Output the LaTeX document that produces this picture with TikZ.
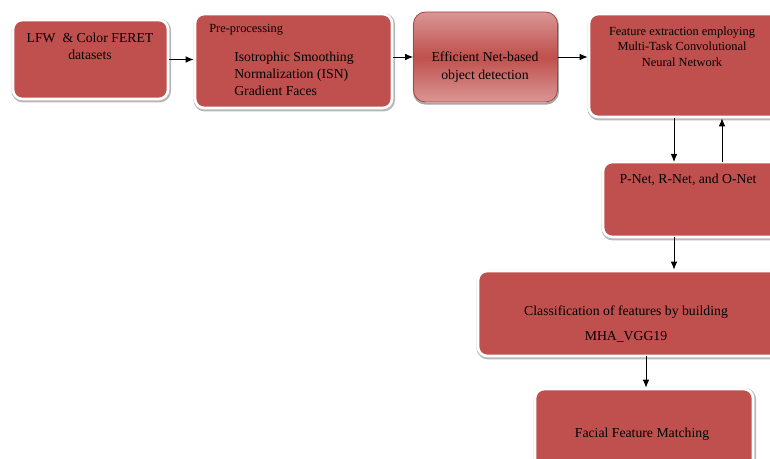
\documentclass[tikz,border=0pt]{standalone}
\usepackage{fontspec}
\setmainfont{Liberation Serif}
\usetikzlibrary{arrows.meta}
\definecolor{boxred}{HTML}{C0504D}
\definecolor{boxlight}{HTML}{D99694}
\definecolor{boxedge}{HTML}{A84542}
\tikzset{
  box/.style={rectangle, rounded corners=7pt, fill=boxred, draw=white, line width=2pt, inner sep=0pt,
    preaction={draw=black!28, line width=3.4pt, transform canvas={shift={(0.6pt,-0.9pt)}}}},
  glossbox/.style={rectangle, rounded corners=9pt, draw=boxedge, line width=0.6pt, inner sep=0pt,
    top color=boxlight, bottom color=boxlight, middle color=boxred,
    preaction={draw=black!35, line width=1.6pt, transform canvas={shift={(0.3pt,-1.2pt)}}}},
  txt/.style={inner sep=0pt, font=\fontsize{10.3pt}{12.75pt}\selectfont, align=center},
  smalltxt/.style={inner sep=0pt, font=\fontsize{9.3pt}{11.5pt}\selectfont, align=center},
  arr/.style={-{Latex[length=6pt,width=5pt]}, line width=0.7pt, black}
}
\begin{document}
\begin{tikzpicture}[x=0.75pt,y=-0.75pt]
\useasboundingbox (0,0) rectangle (770,459);
\clip (0,0) rectangle (770,459);
% boxes
\node[box, minimum width=116.25pt, minimum height=59.25pt] (b1) at (90.5,59.5) {};
\node[box, minimum width=147.75pt, minimum height=70.5pt] (b2) at (293.5,61) {};
\node[glossbox, minimum width=108pt, minimum height=67.5pt] (b3) at (485.5,57) {};
\node[box, minimum width=150.75pt, minimum height=77.25pt] (b4) at (689.5,65.5) {};
\node[box, minimum width=140.25pt, minimum height=56.25pt] (b5) at (696.5,199.5) {};
\node[box, minimum width=234pt, minimum height=63.75pt] (b6) at (634,313.5) {};
\node[box, minimum width=163.5pt, minimum height=68.25pt] (b7) at (644,434.5) {};
% texts
\node[txt] (t1) at (90,46.5) {LFW \ \& Color FERET\\datasets};
\node[smalltxt, anchor=west] (t2a) at (209,30) {Pre-processing};
\node[txt, align=left, anchor=west] (t2b) at (234,74) {Isotrophic Smoothing\\Normalization (ISN)\\Gradient Faces};
\node[txt, font=\fontsize{10.3pt}{13.5pt}\selectfont] (t3) at (485,67) {Efficient Net-based\\object detection};
\node[smalltxt] (t4) at (682,46.5) {Feature extraction employing\\Multi-Task Convolutional\\Neural Network};
\node[txt] (t5) at (688,180) {P-Net, R-Net, and O-Net};
\node[txt, font=\fontsize{10.3pt}{18.75pt}\selectfont] (t6) at (626,324.5) {Classification of features by building\\MHA\_VGG19};
\node[txt] (t7) at (642,434) {Facial Feature Matching};
% connectors
\coordinate (c45) at (674,162);
\coordinate (c54) at (722,162);
\coordinate (c56) at (674,237);
\coordinate (c67) at (646,356);
\draw[arr] (b1.east) -- (b1.east -| b2.west);
\draw[arr] (b2.east |- b3.west) -- (b3.west);
\draw[arr] (b3.east) -- (b3.east -| b4.west);
\draw[arr] (c45 |- b4.south) -- (c45);
\draw[arr] (c54) -- (c54 |- b4.south);
\draw[arr] (c56) -- (c56 |- b6.north);
\draw[arr] (c67) -- (c67 |- b7.north);
\end{tikzpicture}
\end{document}
